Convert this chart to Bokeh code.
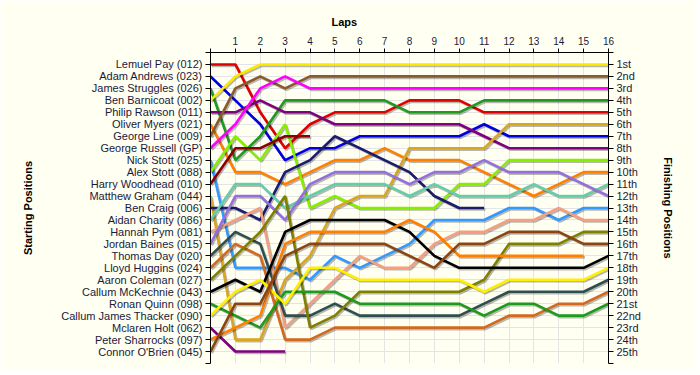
from bokeh.plotting import figure
from bokeh.models import Range1d, LinearAxis, FixedTicker
from bokeh.embed import file_html
from bokeh.resources import INLINE

# ---------------- data ----------------
laps = list(range(17))

start_names = [
    "Lemuel Pay (012)", "Adam Andrews (023)", "James Struggles (026)", "Ben Barnicoat (002)",
    "Philip Rawson (011)", "Oliver Myers (021)", "George Line (009)", "George Russell (GP)",
    "Nick Stott (025)", "Alex Stott (088)", "Harry Woodhead (010)", "Matthew Graham (044)",
    "Ben Craig (006)", "Aidan Charity (086)", "Hannah Pym (081)", "Jordan Baines (015)",
    "Thomas Day (020)", "Lloyd Huggins (024)", "Aaron Coleman (027)", "Callum McKechnie (043)",
    "Ronan Quinn (098)", "Callum James Thacker (090)", "Mclaren Holt (062)",
    "Peter Sharrocks (097)", "Connor O'Brien (045)",
]

finish_labels = [
    "1st", "2nd", "3rd", "4th", "5th", "6th", "7th", "8th", "9th", "10th", "11th", "12th",
    "13th", "14th", "15th", "16th", "17th", "18th", "19th", "20th", "21st", "22nd", "23rd",
    "24th", "25th",
]

# positions per lap (lap 0 = starting position)
lemuel_pay = [1, 1, 5, 8, 6, 5, 5, 5, 4, 4, 4, 5, 5, 5, 5, 5, 5]
adam_andrews = [2, 4, 6, 9, 8, 8, 7, 7, 7, 7, 7, 6, 7, 7, 7, 7, 7]
james_struggles = [3, 9, 7, 4, 4, 4, 4, 4, 5, 5, 5, 4, 4, 4, 4, 4, 4]
ben_barnicoat = [4, 2, 1, 1, 1, 1, 1, 1, 1, 1, 1, 1, 1, 1, 1, 1, 1]
philip_rawson = [5, 5, 4, 5, 5, 6, 6, 6, 6, 6, 6, 7, 8, 8, 8, 8, 8]
oliver_myers = [6, 10, 10, 11, 10, 9, 9, 8, 9, 9, 9, 10, 11, 12, 11, 10, 10]
george_line = [7, 3, 2, 3, 2, 2, 2, 2, 2, 2, 2, 2, 2, 2, 2, 2, 2]
george_russell = [8, 6, 3, 2, 3, 3, 3, 3, 3, 3, 3, 3, 3, 3, 3, 3, 3]
nick_stott = [9, 18, 18, 18, 19, 17, 18, 17, 16, 14, 14, 14, 13, 13, 14, 13, 13]
alex_stott = [10, 7, 9, 6, 13, 12, 13, 13, 13, 13, 11, 11, 9, 9, 9, 9, 9]
harry_woodhead = [11, 8, 8, 7, 7]
matthew_graham = [12, 24, 24, 19, 17, 13, 12, 12, 8, 8, 8, 8, 6, 6, 6, 6, 6]
ben_craig = [13, 13, 14, 10, 9, 7, 8, 9, 10, 12, 13, 13]
aidan_charity = [14, 11, 11, 13, 12, 11, 11, 11, 12, 11, 12, 12, 12, 11, 12, 12, 11]
hannah_pym = [15, 14, 13, 23, 21, 19, 17, 18, 18, 16, 15, 15, 14, 14, 13, 14, 14]
jordan_baines = [16, 12, 12, 14, 11, 10, 10, 10, 11, 10, 10, 9, 10, 10, 10, 11, 12]
thomas_day = [17, 15, 16, 22, 22, 21, 22, 22, 22, 22, 22, 21, 20, 20, 20, 20, 19]
lloyd_huggins = [18, 16, 17, 24, 24, 23, 23, 23, 23, 23, 23, 23, 22, 22, 21, 21, 20]
aaron_coleman = [19, 17, 15, 12, 23, 22, 20, 20, 20, 20, 20, 19, 16, 16, 16, 15, 15]
callum_mckechnie = [20, 19, 20, 15, 14, 14, 14, 14, 15, 17, 18, 18, 18, 18, 18, 18, 17]
ronan_quinn = [21, 22, 23, 20, 20, 20, 21, 21, 21, 21, 21, 22, 21, 21, 22, 22, 21]
callum_james_thacker = [22, 20, 19, 21, 18, 18, 19, 19, 19, 19, 19, 20, 19, 19, 19, 19, 18]
mclaren_holt = [23, 25, 25, 25]
peter_sharrocks = [24, 23, 22, 16, 15, 15, 15, 15, 14, 15, 17, 17, 17, 17, 17, 17]
connor_obrien = [25, 21, 21, 17, 16, 16, 16, 16, 17, 18, 16, 16, 15, 15, 15, 16, 16]

series = [
    lemuel_pay, adam_andrews, james_struggles, ben_barnicoat, philip_rawson, oliver_myers,
    george_line, george_russell, nick_stott, alex_stott, harry_woodhead, matthew_graham,
    ben_craig, aidan_charity, hannah_pym, jordan_baines, thomas_day, lloyd_huggins,
    aaron_coleman, callum_mckechnie, ronan_quinn, callum_james_thacker, mclaren_holt,
    peter_sharrocks, connor_obrien,
]

# ---------------- styles ----------------
colors = [
    "#E00000", "#0000E0", "#1E9A1E", "#FFE800", "#800080", "#FF8000",
    "#8B5A2B", "#FF00FF", "#3399FF", "#88EE00", "#8B0000", "#DAA520",
    "#1C1C6E", "#66CDAA", "#F4A080", "#9370DB", "#2F4F4F", "#D2691E",
    "#808000", "#000000", "#1E9A1E", "#FFF000", "#800080",
    "#FF8000", "#8B4513",
]

BG = "#FFFFF2"
GRID = "#E4E4E4"
TXT = "#1A1A3A"
FONT = "Liberation Sans"
FRAME_W, FRAME_H = 398, 311
N_POS = len(start_names)
N_LAPS = laps[-1]

p = figure(
    width=696, height=370,
    output_backend="svg", toolbar_location=None,
    x_range=Range1d(0, N_LAPS), y_range=Range1d(N_POS + 1, 0),
    x_axis_location="above",
    min_border_left=210, min_border_right=88, min_border_top=52, min_border_bottom=7,
    background_fill_color=BG, border_fill_color=BG, outline_line_color=None,
)

# shadow ranges: shift ~1.3px right and ~1.5px down
sx = 1.3 * N_LAPS / FRAME_W
sy = 1.5 * (N_POS + 1) / FRAME_H
p.extra_x_ranges = {"sx": Range1d(-sx, N_LAPS - sx)}
p.extra_y_ranges = {"sy": Range1d(N_POS + 1 - sy, -sy)}

# title
p.title.text = "Laps"
p.title.align = "left"
p.title.offset = 121
p.title.text_font = FONT
p.title.text_font_size = "11px"
p.title.text_font_style = "bold"
p.title.text_color = "#000000"
p.title.standoff = 12

ticks_y = list(range(0, N_POS + 2))

# top x axis
xa = p.xaxis[0]
xa.ticker = FixedTicker(ticks=laps)
xa.major_label_overrides = {0: ""}
xa.major_label_text_font = FONT
xa.major_label_text_font_size = "10px"
xa.major_label_text_color = TXT
xa.major_label_standoff = 4
xa.major_tick_out = 4
xa.major_tick_in = 0
xa.minor_tick_out = 0
xa.minor_tick_in = 0
xa.axis_line_color = "#000000"
xa.major_tick_line_color = "#000000"

# left y axis
ya = p.yaxis[0]
ya.ticker = FixedTicker(ticks=ticks_y)
ov = {0: "", N_POS + 1: ""}
for i, n in enumerate(start_names):
    ov[i + 1] = n
ya.major_label_overrides = ov
ya.axis_label = "Starting Positions"
ya.axis_label_text_font = FONT
ya.axis_label_text_font_size = "11px"
ya.axis_label_text_font_style = "bold"
ya.axis_label_text_color = "#000000"
ya.axis_label_standoff = 24
ya.major_label_text_font = FONT
ya.major_label_text_font_size = "11px"
ya.major_label_text_color = TXT
ya.major_label_standoff = 3
ya.major_tick_out = 5
ya.major_tick_in = 0
ya.minor_tick_out = 0
ya.minor_tick_in = 0
ya.axis_line_color = "#000000"

# right y axis
ra = LinearAxis(ticker=FixedTicker(ticks=ticks_y))
ov2 = {0: "", N_POS + 1: ""}
for i, n in enumerate(finish_labels):
    ov2[i + 1] = n
ra.major_label_overrides = ov2
ra.axis_label = "Finishing Positions"
ra.axis_label_text_font = FONT
ra.axis_label_text_font_size = "11px"
ra.axis_label_text_font_style = "bold"
ra.axis_label_text_color = "#000000"
ra.axis_label_standoff = 18
ra.major_label_text_font = FONT
ra.major_label_text_font_size = "11px"
ra.major_label_text_color = TXT
ra.major_label_standoff = 3
ra.major_tick_out = 5
ra.major_tick_in = 0
ra.minor_tick_out = 0
ra.minor_tick_in = 0
ra.axis_line_color = "#000000"
p.add_layout(ra, "right")

# grids
p.xgrid.ticker = FixedTicker(ticks=laps)
p.ygrid.ticker = FixedTicker(ticks=ticks_y)
p.xgrid.grid_line_color = GRID
p.ygrid.grid_line_color = GRID

# lines with shadows
for pos, c in zip(series, colors):
    xs = laps[:len(pos)]
    p.line(xs, pos, line_color="#000000", line_alpha=0.28, line_width=2.6,
           x_range_name="sx", y_range_name="sy")
    p.line(xs, pos, line_color=c, line_width=2.6)

open("out.html", "w").write(file_html(p, INLINE))
